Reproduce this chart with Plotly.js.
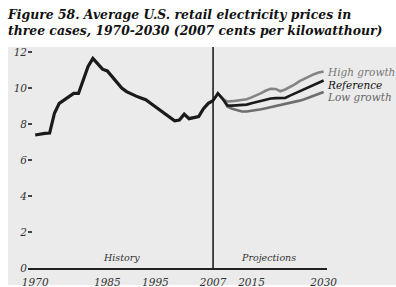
<!DOCTYPE html>
<html>
<head>
<meta charset="utf-8">
<script src="https://cdn.plot.ly/plotly-3.0.1.min.js"></script>
<style>html,body{margin:0;padding:0;background:#fff;}#chart{width:396px;height:287px;}</style>
</head>
<body>
<div id="chart"></div>
<script>
const historyYears = [1970,1971,1972,1973,1974,1975,1976,1977,1978,1979,1980,1981,1982,1983,1984,1985,1986,1987,1988,1989,1990,1991,1992,1993,1994,1995,1996,1997,1998,1999,2000,2001,2002,2003,2004,2005,2006,2007];
const historyPrices = [7.39,7.45,7.48,7.5,8.6,9.15,9.33,9.55,9.7,9.7,10.5,11.2,11.65,11.35,11.05,10.95,10.65,10.3,10.0,9.8,9.65,9.55,9.45,9.35,9.15,8.95,8.75,8.55,8.35,8.18,8.22,8.55,8.3,8.36,8.42,8.85,9.15,9.3];
const projYears = [2007,2008,2009,2010,2011,2012,2013,2014,2015,2016,2017,2018,2019,2020,2021,2022,2023,2024,2025,2026,2027,2028,2029,2030];
const highGrowth = [9.3,9.7,9.4,9.25,9.27,9.3,9.32,9.38,9.48,9.58,9.72,9.86,9.96,9.95,9.82,9.92,10.05,10.2,10.38,10.52,10.66,10.77,10.86,10.92];
const reference = [9.3,9.7,9.4,9.03,9.02,9.03,9.05,9.08,9.15,9.22,9.3,9.37,9.42,9.44,9.43,9.45,9.58,9.7,9.85,9.98,10.1,10.22,10.33,10.42];
const lowGrowth = [9.3,9.7,9.4,8.96,8.85,8.76,8.7,8.7,8.73,8.77,8.82,8.88,8.94,8.98,9.03,9.08,9.14,9.22,9.3,9.38,9.48,9.6,9.7,9.78];
const xTickVals = [1970,1985,1995,2007,2015,2030];
const yTickVals = [0,2,4,6,8,10,12];
const seriesNames = ["High growth","Reference","Low growth"];

const serif = "DejaVu Serif, Liberation Serif, serif";
const traces = [
  {x: projYears, y: highGrowth, mode:'lines', name: seriesNames[0], line:{color:'#848484', width:2.6}},
  {x: projYears, y: lowGrowth, mode:'lines', name: seriesNames[2], line:{color:'#6e6e6e', width:2.6}},
  {x: projYears, y: reference, mode:'lines', name: seriesNames[1], line:{color:'#1a1a1a', width:2.6}},
  {x: historyYears, y: historyPrices, mode:'lines', name:'History', line:{color:'#1a1a1a', width:3.2}}
];

const layout = {
  width: 396, height: 287,
  margin: {l: 28, r: 69, t: 47, b: 19},
  paper_bgcolor: '#ffffff',
  plot_bgcolor: 'rgba(0,0,0,0)',
  showlegend: false,
  title: {
    text: '<b><i>Figure 58. Average U.S. retail electricity prices in<br>three cases, 1970-2030 (2007 cents per kilowatthour)</i></b>',
    font: {family: serif, size: 12.4, color: '#111'},
    x: 8/396, xanchor: 'left', xref: 'container',
    y: 1 - 19/287, yanchor: 'top', yref: 'container'
  },
  xaxis: {
    range: [1968.5, 2030.7],
    tickvals: xTickVals,
    ticktext: xTickVals.map(String),
    showgrid: false, zeroline: false,
    showline: true, linecolor: '#222', linewidth: 1.5,
    ticks: '',
    ticklabelstandoff: 4,
    tickfont: {family: serif, size: 10.5, color: '#333', style: 'italic'}
  },
  yaxis: {
    range: [0, 12.28],
    tickvals: yTickVals,
    showgrid: false, zeroline: false, showline: false,
    ticks: 'inside', ticklen: 4, tickwidth: 1.3, tickcolor: '#444',
    tickfont: {family: serif, size: 10.5, color: '#333', style: 'italic'}
  },
  shapes: [
    {type:'rect', xref:'paper', yref:'paper', x0:-0.067, x1:1.25, y0:-0.077, y1:1, fillcolor:'#ebebeb', line:{width:0}, layer:'below'},
    {type:'line', xref:'x', yref:'paper', x0:2007, x1:2007, y0:0, y1:1, line:{color:'#111', width:1.5}}
  ],
  annotations: [
    {xref:'x', yref:'y', x:2030.3, y:10.88, text:'<i>High growth</i>', showarrow:false, xanchor:'left', yanchor:'middle', font:{family: serif, size: 10.5, color:'#777'}},
    {xref:'x', yref:'y', x:2030.3, y:10.18, text:'<i>Reference</i>', showarrow:false, xanchor:'left', yanchor:'middle', font:{family: serif, size: 10.5, color:'#111'}},
    {xref:'x', yref:'y', x:2030.3, y:9.52, text:'<i>Low growth</i>', showarrow:false, xanchor:'left', yanchor:'middle', font:{family: serif, size: 10.5, color:'#666'}},
    {xref:'x', yref:'y', x:1987.9, y:0.6, text:'<i>History</i>', showarrow:false, xanchor:'center', yanchor:'middle', font:{family: serif, size: 9.5, color:'#333'}},
    {xref:'x', yref:'y', x:2018.6, y:0.6, text:'<i>Projections</i>', showarrow:false, xanchor:'center', yanchor:'middle', font:{family: serif, size: 9.5, color:'#333'}}
  ]
};
Plotly.newPlot('chart', traces, layout, {displayModeBar:false, staticPlot:true});
</script>
</body>
</html>
